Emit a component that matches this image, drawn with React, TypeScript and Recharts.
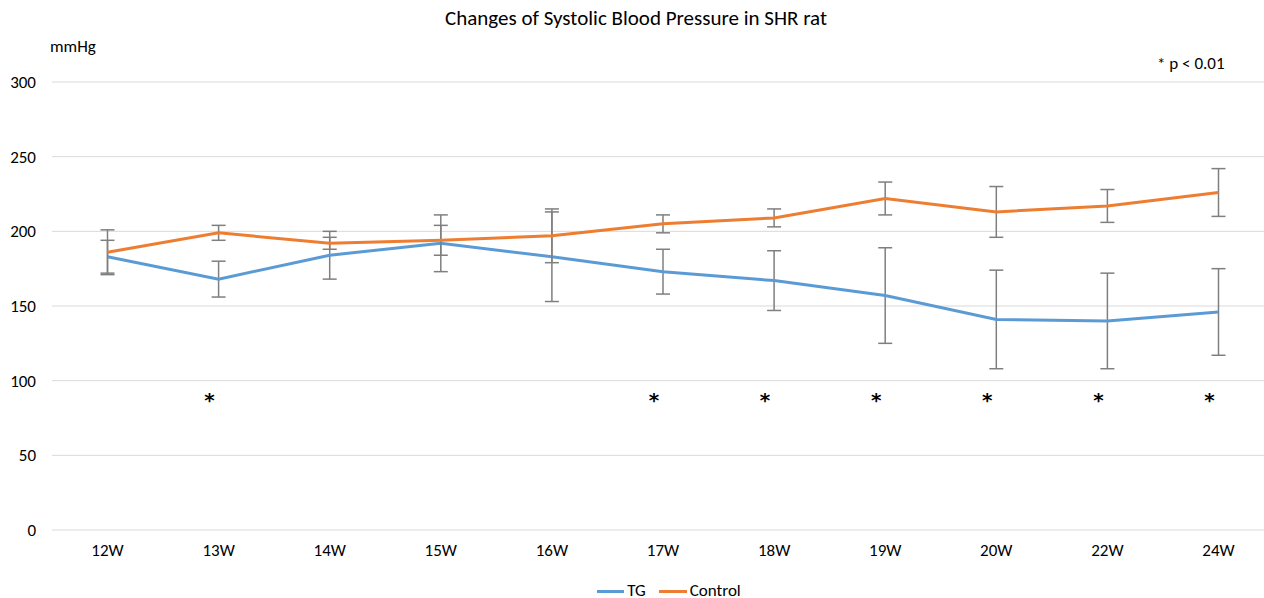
import React from 'react';
import { ComposedChart, Line, XAxis, YAxis, CartesianGrid, ErrorBar, Legend } from 'recharts';

const weeks = ['12W', '13W', '14W', '15W', '16W', '17W', '18W', '19W', '20W', '22W', '24W'];
const tgValues = [183, 168, 184, 192, 183, 173, 167, 157, 141, 140, 146];
const tgErrors = [11, 12, 16, 19, 30, 15, 20, 32, 33, 32, 29];
const controlValues = [186, 199, 192, 194, 197, 205, 209, 222, 213, 217, 226];
const controlErrors = [15, 5, 4, 10, 18, 6, 6, 11, 17, 11, 16];
const significant = [false, true, false, false, false, true, true, true, true, true, true];
const starLevel = 90;
const yTicks = [0, 50, 100, 150, 200, 250, 300];

const data = weeks.map((w, i) => ({
  week: w,
  TG: tgValues[i],
  tgErr: tgErrors[i],
  Control: controlValues[i],
  ctrlErr: controlErrors[i],
  sig: significant[i] ? starLevel : null,
}));

const FONT = "Calibri, Carlito, 'Open Sans', 'Noto Sans', sans-serif";

const StarDot = (props: any) => {
  const { cx, cy, payload, index } = props;
  if (payload == null || payload.sig == null || cx == null || cy == null) return <g key={`s${index}`} />;
  return (
    <text key={`s${index}`} x={cx - 9} y={cy + 11} textAnchor="middle" fontSize={20} fontWeight={700} fill="#000" fontFamily="'DejaVu Sans', sans-serif">
      *
    </text>
  );
};

const txt: React.CSSProperties = { display: 'inline-block', height: 14, lineHeight: '14px', overflow: 'visible' };

const LegendContent = () => (
  <div style={{ display: 'flex', justifyContent: 'center', alignItems: 'center', height: 14, paddingLeft: 74, fontFamily: FONT, fontSize: 17, lineHeight: '14px', color: '#000' }}>
    <span style={{ display: 'inline-block', width: 27, height: 3, background: '#5B9BD5', marginRight: 3 }} />
    <span style={{ ...txt, marginRight: 13 }}>TG</span>
    <span style={{ display: 'inline-block', width: 28, height: 3, background: '#ED7D31', marginRight: 3 }} />
    <span style={txt}>Control</span>
  </div>
);

export default function App() {
  return (
    <div style={{ position: 'absolute', left: 0, top: 0, width: 1264, height: 598, overflow: 'hidden', background: '#fff', fontFamily: FONT }}>
      <div style={{ position: 'absolute', left: 0, width: 1256, top: 5, textAlign: 'center', fontSize: 21, color: '#000', paddingLeft: 8 }}>
        Changes of Systolic Blood Pressure in SHR rat
      </div>
      <div style={{ position: 'absolute', left: 50, top: 36, fontSize: 17, color: '#000' }}>mmHg</div>
      <div style={{ position: 'absolute', left: 1157, top: 53, fontSize: 17, color: '#000' }}>* p &lt; 0.01</div>
      <ComposedChart
        width={1290}
        height={598}
        data={data}
        margin={{ top: 82, right: 16, left: 0, bottom: 24 }}
      >
        <CartesianGrid vertical={false} stroke="#d9d9d9" strokeWidth={1} />
        <XAxis
          dataKey="week"
          axisLine={false}
          tickLine={false}
          height={30}
          padding={{ left: 55.5, right: 55.5 }}
          tick={{ fill: '#000', fontSize: 17, fontFamily: FONT }}
          tickMargin={8}
        />
        <YAxis
          domain={[0, 300]}
          ticks={yTicks}
          width={52}
          axisLine={false}
          tickLine={false}
          tickMargin={10}
          tick={{ fill: '#000', fontSize: 17, fontFamily: FONT }}
        />
        <Line
          type="linear"
          dataKey="TG"
          stroke="#5B9BD5"
          strokeWidth={3}
          dot={false}
          activeDot={false}
          isAnimationActive={false}
        >
          <ErrorBar dataKey="tgErr" direction="y" width={7} stroke="#7f7f7f" strokeWidth={1.5} isAnimationActive={false} />
        </Line>
        <Line
          type="linear"
          dataKey="Control"
          stroke="#ED7D31"
          strokeWidth={3}
          dot={false}
          activeDot={false}
          isAnimationActive={false}
        >
          <ErrorBar dataKey="ctrlErr" direction="y" width={7} stroke="#7f7f7f" strokeWidth={1.5} isAnimationActive={false} />
        </Line>
        <Line
          type="linear"
          dataKey="sig"
          stroke="none"
          legendType="none"
          dot={StarDot}
          activeDot={false}
          isAnimationActive={false}
        />
        <Legend verticalAlign="bottom" content={<LegendContent />} wrapperStyle={{ left: 0, width: 1264, top: 584, bottom: 'auto' }} />
      </ComposedChart>
    </div>
  );
}
